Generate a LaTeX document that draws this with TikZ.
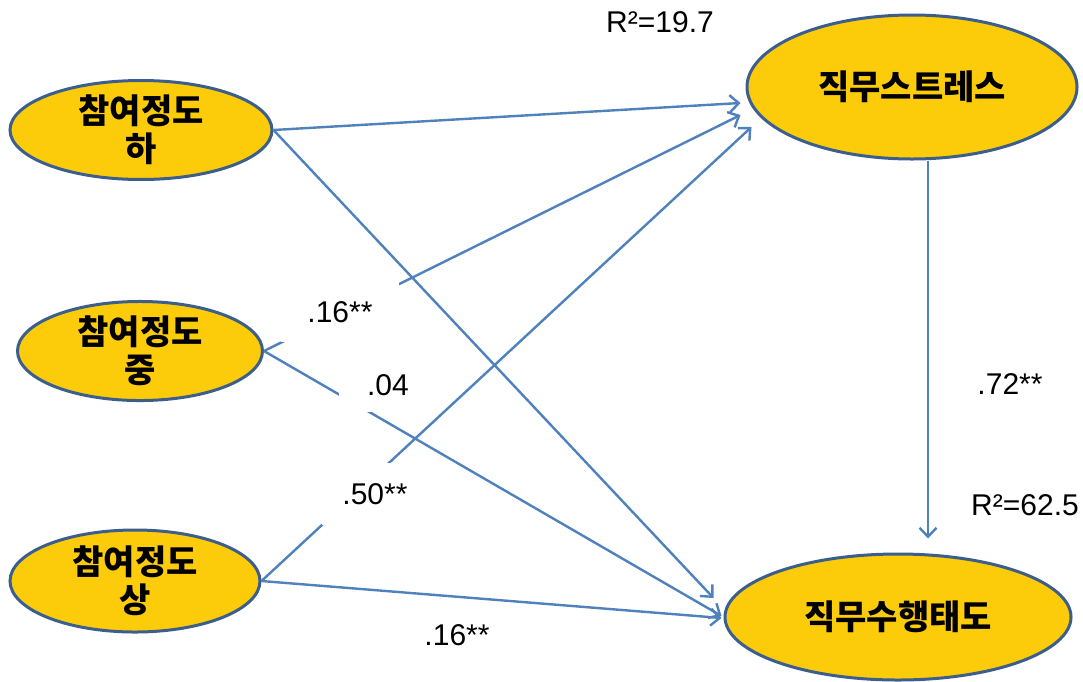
\documentclass[tikz,border=0pt]{standalone}
\usepackage{fontspec}
\newfontfamily\kr{Noto Sans CJK KR}
\newfontfamily\lab{Liberation Sans}
\usetikzlibrary{shapes.geometric,arrows.meta,calc}
\definecolor{gold}{RGB}{252,204,10}
\definecolor{edgeblue}{RGB}{60,94,140}
\definecolor{arrowblue}{RGB}{79,129,189}
\begin{document}
\begin{tikzpicture}[x=1pt,y=-1pt,
  oval/.style={ellipse, draw=edgeblue, line width=3pt, fill=gold, inner sep=0pt,
    font=\kr\bfseries\fontsize{34}{38}\selectfont, align=center, text=black},
  arr/.style={draw=arrowblue, line width=2.4pt, -{Straight Barb[length=9pt,width=17pt]}},
  coef/.style={font=\lab\fontsize{30}{32}\selectfont, fill=white, inner sep=0pt}
]
\useasboundingbox (0,0) rectangle (1083,681);
\fill[white] (0,0) rectangle (1083,681);

\node[oval, minimum width=262pt, minimum height=96pt] (ha) at (141,130) {참여정도\\하};
\node[oval, minimum width=245pt, minimum height=98pt] (ju) at (140,351) {참여정도\\중};
\node[oval, minimum width=250pt, minimum height=102pt] (sang) at (135,581) {참여정도\\상};
\node[oval, minimum width=330pt, minimum height=144pt] (st) at (912,87) {직무스트레스};
\node[oval, minimum width=346pt, minimum height=126pt] (su) at (898,617) {직무수행태도};

\draw[arr] (ha.east) -- ($(st.west)+(-5,16)$);
\draw[arr] (ha.east) -- ($(su.west)+(-10,-19)$);
\draw[arr] (ju.east) -- ($(st.west)+(-5,28)$);
\draw[arr] (ju.east) -- ($(su.west)+(-2,-1)$);
\draw[arr] (sang.east) -- ($(st.west)+(6,40)$);
\draw[arr] (sang.east) -- ($(su.west)+(-2,1)$);
\draw[arr] ($(st.south)+(16,0)$) -- ($(su.north)+(30,-14)$);

\node[coef, minimum width=118pt, minimum height=60pt] (l1) at (340,312) {.16**};
\node[coef, minimum width=98pt, minimum height=54pt] (l2) at (388,385) {.04};
\node[coef, minimum width=106pt, minimum height=62pt] (l3) at (375,494) {.50**};
\node[coef] (l4) at (457,635) {.16**};
\node[coef] (l5) at (1010,384) {.72**};
\node[coef] (r1) at (660,22) {R²=19.7};
\node[coef] (r2) at (1025,505) {R²=62.5};
\end{tikzpicture}
\end{document}
